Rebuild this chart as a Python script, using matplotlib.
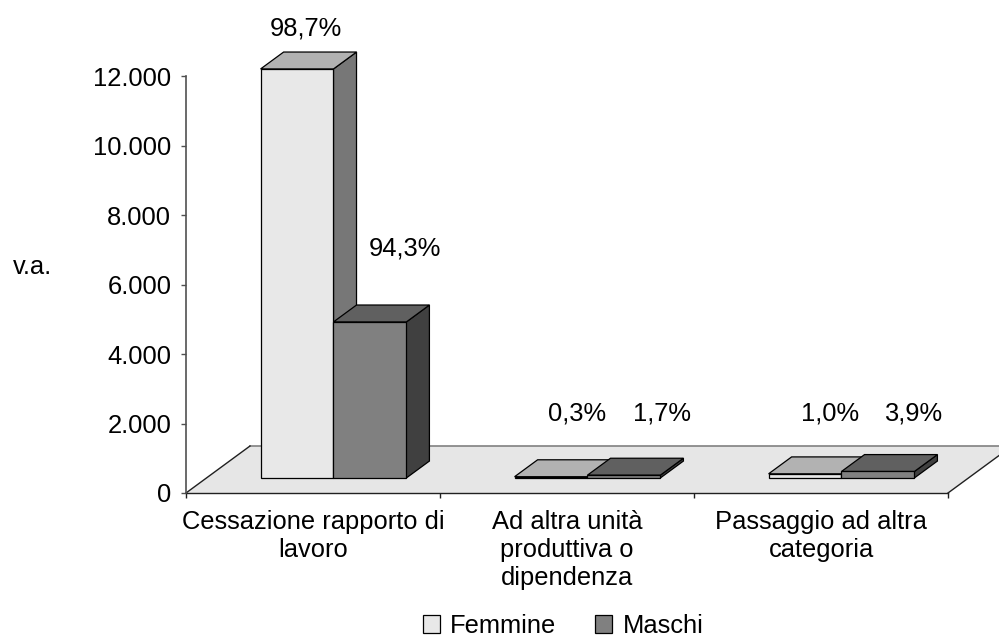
import matplotlib
matplotlib.use("Agg")
import matplotlib.pyplot as plt
from matplotlib.patches import Polygon, Patch

plt.rcParams['font.family'] = ['Liberation Sans', 'DejaVu Sans']

# --- data ---
categories = ['Cessazione rapporto di\nlavoro',
              'Ad altra unità\nproduttiva o\ndipendenza',
              'Passaggio ad altra\ncategoria']
series_names = ['Femmine', 'Maschi']
femmine = [11770, 36, 119]
maschi = [4490, 81, 186]
femmine_pct = ['98,7%', '0,3%', '1,0%']
maschi_pct = ['94,3%', '1,7%', '3,9%']
y_ticks = [0, 2000, 4000, 6000, 8000, 10000, 12000]

# --- style ---
FS = 18.4
W, H = 999, 639
face_cols = {
    'Femmine': dict(front='#e8e8e8', top='#b2b2b2', side='#777777'),
    'Maschi': dict(front='#808080', top='#606060', side='#404040'),
}

fig = plt.figure(figsize=(W / 100, H / 100), dpi=100)
ax = fig.add_axes([186 / W, 1 - 493 / H, (948 - 186) / W, (493 - 76) / H])
ax.set_xlim(0, 3)
ax.set_ylim(0, 12000)

# oblique depth offset of the floor, in data units
px_per_val = (493 - 76) / 12000
px_per_cat = (948 - 186) / 3
ddx = 64 / px_per_cat
ddy = 47 / px_per_val

# floor
n = len(categories)
floor = Polygon([(0, 0), (n, 0), (n + ddx, ddy), (ddx, ddy)], closed=True,
                facecolor='#e6e6e6', edgecolor='none', clip_on=False, zorder=1)
ax.add_patch(floor)
ax.plot([ddx, n + ddx], [ddy, ddy], color='#808080', lw=1.2, clip_on=False, zorder=2)
ax.plot([0, ddx], [0, ddy], color='#202020', lw=1.0, clip_on=False, zorder=2)
ax.plot([n, n + ddx], [0, ddy], color='#202020', lw=1.0, clip_on=False, zorder=2)

# 3D bars
bw = 0.287
d0, d1 = 0.32, 0.68


def draw_bar(x0, v, cols, z):
    fx0, fy0 = x0 + d0 * ddx, d0 * ddy
    bx0, by0 = x0 + d1 * ddx, d1 * ddy
    kw = dict(edgecolor='black', lw=0.9, clip_on=False, zorder=z, joinstyle='miter')
    side = [(fx0 + bw, fy0), (bx0 + bw, by0), (bx0 + bw, by0 + v), (fx0 + bw, fy0 + v)]
    top = [(fx0, fy0 + v), (fx0 + bw, fy0 + v), (bx0 + bw, by0 + v), (bx0, by0 + v)]
    front = [(fx0, fy0), (fx0 + bw, fy0), (fx0 + bw, fy0 + v), (fx0, fy0 + v)]
    ax.add_patch(Polygon(side, closed=True, facecolor=cols['side'], **kw))
    ax.add_patch(Polygon(top, closed=True, facecolor=cols['top'], **kw))
    ax.add_patch(Polygon(front, closed=True, facecolor=cols['front'], **kw))


for i in range(n):
    for s, (name, vals) in enumerate(zip(series_names, [femmine, maschi])):
        x0 = i + 0.5 - bw + s * bw
        draw_bar(x0, vals[i], face_cols[name], 3 + i * 2 + s)

# percentage labels (x offset within category, height in value units)
label_x = [[0.47, 0.54, 0.535], [0.862, 0.874, 0.862]]
label_y = [[13380, 2300, 2300], [7050, 2300, 2300]]
for s, pcts in enumerate([femmine_pct, maschi_pct]):
    for i, t in enumerate(pcts):
        ax.text(i + label_x[s][i], label_y[s][i], t, ha='center', va='center',
                fontsize=FS, color='black', clip_on=False, zorder=20)

# axes
for sp in ['top', 'right']:
    ax.spines[sp].set_visible(False)
ax.spines['left'].set_color('#505050')
ax.spines['left'].set_linewidth(1.2)
ax.spines['bottom'].set_color('#202020')
ax.spines['bottom'].set_linewidth(1.0)
ax.spines['bottom'].set_zorder(2)

ax.set_yticks(y_ticks)
ax.set_yticklabels([f"{v:,}".replace(",", ".") for v in y_ticks], fontsize=FS)
ax.tick_params(axis='y', direction='out', length=3.6, width=1, color='#505050', pad=7)

ax.set_xticks([i + 0.5 for i in range(n)])
ax.set_xticklabels(categories, fontsize=FS, linespacing=1.22)
ax.tick_params(axis='x', which='major', length=0, pad=12)
ax.set_xticks(range(n + 1), minor=True)
ax.tick_params(axis='x', which='minor', direction='out', length=3.6, width=1, color='#202020')

ax.set_facecolor('none')
fig.text(52 / W, 1 - 267 / H, 'v.a.', ha='right', va='center', fontsize=FS)

handles = [Patch(facecolor=face_cols[nm]['front'], edgecolor='black', lw=0.9) for nm in series_names]
fig.legend(handles, series_names, loc='center', bbox_to_anchor=(563 / W, 1 - 626 / H),
           ncol=2, frameon=False, fontsize=FS, handlelength=0.68, handleheight=0.68,
           handletextpad=0.4, columnspacing=1.5, borderpad=0, borderaxespad=0)

fig.savefig('out.png', dpi=100, facecolor='white')
